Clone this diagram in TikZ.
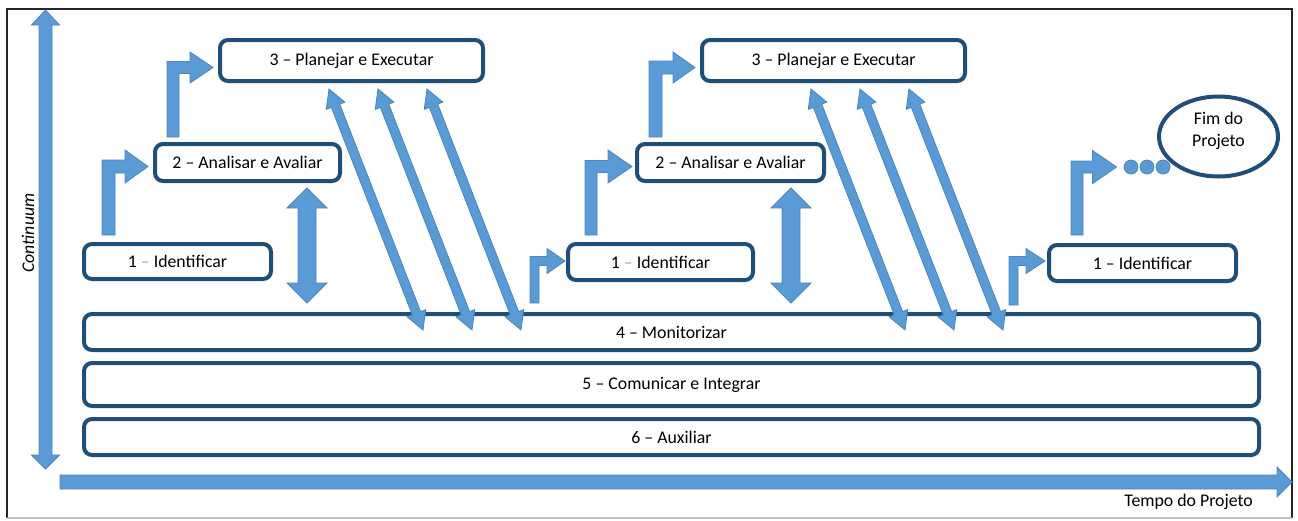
\documentclass[tikz,border=0pt]{standalone}
\usepackage{fontspec}
\setmainfont{Carlito}
\usetikzlibrary{calc,shapes.geometric}

\definecolor{boxline}{HTML}{1F4E79}
\definecolor{arrowfill}{HTML}{5B9BD5}
\definecolor{arrowline}{HTML}{4A85C0}
\definecolor{softdash}{HTML}{A6A6A6}

\tikzset{
  stage/.style={draw=boxline, line width=4pt, rounded corners=8pt, fill=white,
    inner sep=0pt, text=black, font=\fontsize{17.8}{21}\selectfont},
  endnode/.style={ellipse, draw=boxline, line width=4pt, fill=white, inner sep=0pt},
  endtext/.style={inner sep=0pt, align=center, text=black, font=\fontsize{17.8}{22}\selectfont},
  blockarrow/.style={fill=arrowfill, draw=arrowline, line width=0.8pt, line join=miter},
  dot/.style={circle, fill=arrowfill, draw=arrowline, line width=0.8pt,
    minimum size=14pt, inner sep=0pt},
  axislabel/.style={inner sep=0pt, text=black, font=\fontsize{17.8}{21}\selectfont},
}

% Bent (up, then right) block arrow from the top of #1 to the left side of #2.
% #3 left edge of the shaft, #4 shaft width, #5 head length, #6 head half-height,
% #7,#8 offset of the tip from #2.west, #9 gap above #1.
\newcommand\bentarrow[9]{%
  \path[blockarrow] let \p1=(#1.north), \p2=($(#2.west)+(#7,#8)$) in
    (#3pt,\y1+#9pt) -- (#3pt,\y2+#4pt/2) -- (\x2-#5pt,\y2+#4pt/2)
    -- (\x2-#5pt,\y2+#6pt) -- (\p2) -- (\x2-#5pt,\y2-#6pt)
    -- (\x2-#5pt,\y2-#4pt/2) -- (#3pt+#4pt,\y2-#4pt/2)
    -- (#3pt+#4pt,\y1+#9pt) -- cycle;}

% Vertical two-way block arrow between the bottom of #1 and the top of #2.
\newcommand\vertpair[2]{%
  \path[blockarrow] let \p1=(#1.south east), \p2=(#2.north) in
    (\x1-35pt,\y1-5pt) -- (\x1-15pt,\y1-25pt) -- (\x1-26pt,\y1-25pt)
    -- (\x1-26pt,\y2+29pt) -- (\x1-15pt,\y2+29pt) -- (\x1-35pt,\y2+9pt)
    -- (\x1-55pt,\y2+29pt) -- (\x1-44pt,\y2+29pt) -- (\x1-44pt,\y1-25pt)
    -- (\x1-55pt,\y1-25pt) -- cycle;}

% Slanted two-way block arrow between two points.
\newcommand\slantpair[2]{%
  \path[blockarrow] let \p1=(#1), \p2=(#2),
    \n1={atan2(\y2-\y1,\x2-\x1)}, \n2={veclen(\x2-\x1,\y2-\y1)-36pt} in
    (\p1) -- ++(\n1+29.05:20.59pt) -- ++(\n1-90:5.5pt) -- ++(\n1:{\n2*1pt})
    -- ++(\n1+90:5.5pt) -- ++(\n1-29.05:20.59pt) -- ++(\n1+209.05:20.59pt)
    -- ++(\n1+90:5.5pt) -- ++(\n1+180:{\n2*1pt}) -- ++(\n1-90:5.5pt) -- cycle;}

\begin{document}
\begin{tikzpicture}[x=1pt,y=-1pt]
\useasboundingbox (0,0) rectangle (1298,520);

% frame
\draw[black!85, line width=2pt] (7,518) -- (7,9) -- (1292,9) -- (1292,518);
\draw[black!25, line width=1.5pt] (7,518) -- (1292,518);

% axes
\path[blockarrow] (45.5,10) -- (59.5,25) -- (52,25) -- (52,455) -- (59.5,455)
  -- (45.5,469) -- (31.5,455) -- (39,455) -- (39,25) -- (31.5,25) -- cycle;
\path[blockarrow] (60,475) -- (1277,475) -- (1277,467) -- (1292,482)
  -- (1277,497) -- (1277,489) -- (60,489) -- cycle;
\node[axislabel, rotate=90, font=\fontsize{17.8}{21}\selectfont\itshape] (yl) at (28,233) {Continuum};
\node[axislabel, anchor=east] (xl) at (1253,502) {Tempo do Projeto};

% first cycle
\node[stage, minimum width=263pt, minimum height=41pt] (P3L) at (351.5,60.5) {3 – Planejar e Executar};
\node[stage, minimum width=185pt, minimum height=37pt] (A2L) at (247.5,162.5) {2 – Analisar e Avaliar};
\node[stage, minimum width=187pt, minimum height=35pt] (I1L) at (177.5,261.5) {1 {\color{softdash}–} Identificar};

% second cycle
\node[stage, minimum width=263pt, minimum height=41pt] (P3M) at (833.5,60.5) {3 – Planejar e Executar};
\node[stage, minimum width=187pt, minimum height=37pt] (A2M) at (730.5,162.5) {2 – Analisar e Avaliar};
\node[stage, minimum width=185pt, minimum height=36pt] (I1M) at (660.5,262) {1 {\color{softdash}–} Identificar};

% third cycle
\node[stage, minimum width=187pt, minimum height=36pt] (I1R) at (1142.5,263) {1 – Identificar};
\node[endnode, minimum width=119pt, minimum height=80pt] (fim) at (1218.5,136.5) {};
\node[endtext] (fimtext) at ($(fim.center)+(0,-6)$) {Fim do\\Projeto};
\node[dot] (dot1) at (1131,167) {};
\node[dot] (dot2) at (1147,167) {};
\node[dot] (dot3) at (1163,167) {};

% continuous processes
\node[stage, minimum width=1175pt, minimum height=36pt] (Mon) at (671.5,332) {4 – Monitorizar};
\node[stage, minimum width=1175pt, minimum height=43pt] (Com) at (671.5,384.5) {5 – Comunicar e Integrar};
\node[stage, minimum width=1175pt, minimum height=36pt] (Aux) at (671.5,437) {6 – Auxiliar};

% step arrows
\bentarrow{I1L}{A2L}{102}{13}{23}{16.5}{-5}{4}{7}
\bentarrow{A2L}{P3L}{167}{12}{23}{15.5}{-5}{7}{5}
\bentarrow{I1M}{A2M}{585}{12}{24}{16.5}{-3}{4}{7}
\bentarrow{A2M}{P3M}{649}{13}{22}{15.5}{-5}{7}{5}
\bentarrow{I1R}{dot1}{1071}{12}{24}{16.5}{-7}{0}{8}
\bentarrow{Mon}{I1M}{530}{9}{18}{12.5}{-1}{-1}{9}
\bentarrow{Mon}{I1R}{1009}{9}{19}{12.5}{-2}{-2}{7}

% assessment <-> monitoring
\vertpair{A2L}{Mon}
\vertpair{A2M}{Mon}

% execution <-> monitoring
\foreach \side in {L,M}{
  \foreach \k/\dx in {1/111,2/160,3/209}{
    \coordinate (s\side\k) at ($(P3\side.south west)+(\dx,6)$);
    \coordinate (e\side\k) at ($(s\side\k)+(94,241)$);
    \slantpair{s\side\k}{e\side\k}
  }
}
\end{tikzpicture}
\end{document}
